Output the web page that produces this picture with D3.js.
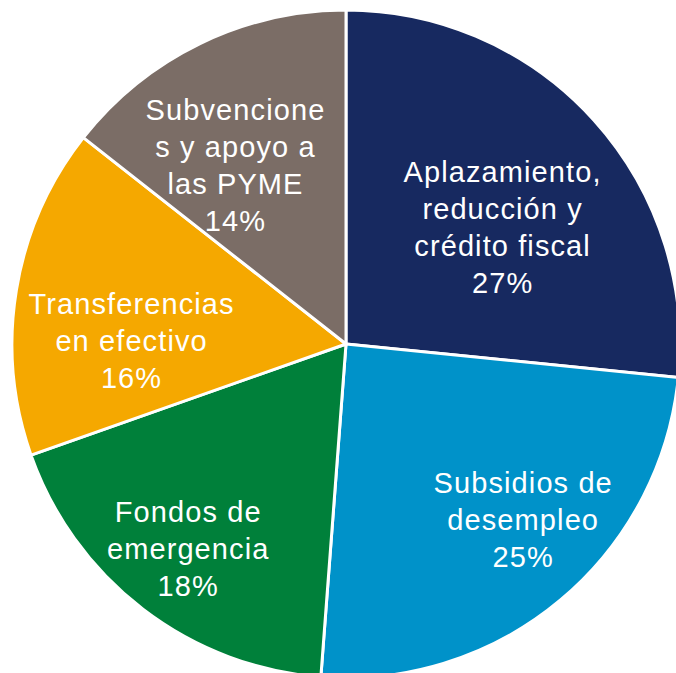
<!DOCTYPE html>
<html><head><meta charset="utf-8">
<script src="https://cdn.jsdelivr.net/npm/d3@7/dist/d3.min.js"></script>
<style>html,body{margin:0;padding:0;background:#fff;overflow:hidden}</style>
</head><body>
<svg id="chart" width="676" height="673"></svg>
<script>
const categories = [
  ["Aplazamiento,", "reducción y", "crédito fiscal"],
  ["Subsidios de", "desempleo"],
  ["Fondos de", "emergencia"],
  ["Transferencias", "en efectivo"],
  ["Subvencione", "s y apoyo a", "las PYME"]
];
const values = [26.6, 24.6, 18.4, 16.0, 14.4];
const colors = ["#172960", "#0092c9", "#00803a", "#f5a800", "#7b6d66"];

const svg = d3.select("#chart");
const cx = 346, cy = 344, R = 334;
const g = svg.append("g").attr("transform", `translate(${cx},${cy})`);
const total = d3.sum(values);
const pie = d3.pie().sort(null).value(d => d)(values);
const arc = d3.arc().innerRadius(0).outerRadius(R);

g.selectAll("path.slice").data(pie).join("path")
  .attr("class", "slice")
  .attr("d", arc)
  .attr("fill", (d, i) => colors[i])
  .attr("stroke", "#fff").attr("stroke-width", 3).attr("stroke-linejoin", "round");

// label layout (nudges from centroid)
const labelArc = d3.arc().innerRadius(230).outerRadius(230);
const nudges = [[-14, 48], [29.5, 10], [-18, 32.5], [12.5, 44], [-10, 38.5]];
const lh = 37;
pie.forEach((d, i) => {
  const [x0, y0] = labelArc.centroid(d);
  const x = x0 + nudges[i][0], y = y0 + nudges[i][1];
  const lines = categories[i].concat([Math.round(d.value / total * 100) + "%"]);
  const t = g.append("text")
    .attr("text-anchor", "middle")
    .attr("fill", "#fff")
    .style("font-family", "'Liberation Sans', Arial, sans-serif")
    .style("font-size", "29px")
    .style("letter-spacing", "1.1px");
  const start = y - (lines.length - 1) / 2 * lh;
  lines.forEach((s, k) => {
    t.append("tspan").attr("x", x).attr("y", start + k * lh).text(s);
  });
});
</script>
</body></html>
